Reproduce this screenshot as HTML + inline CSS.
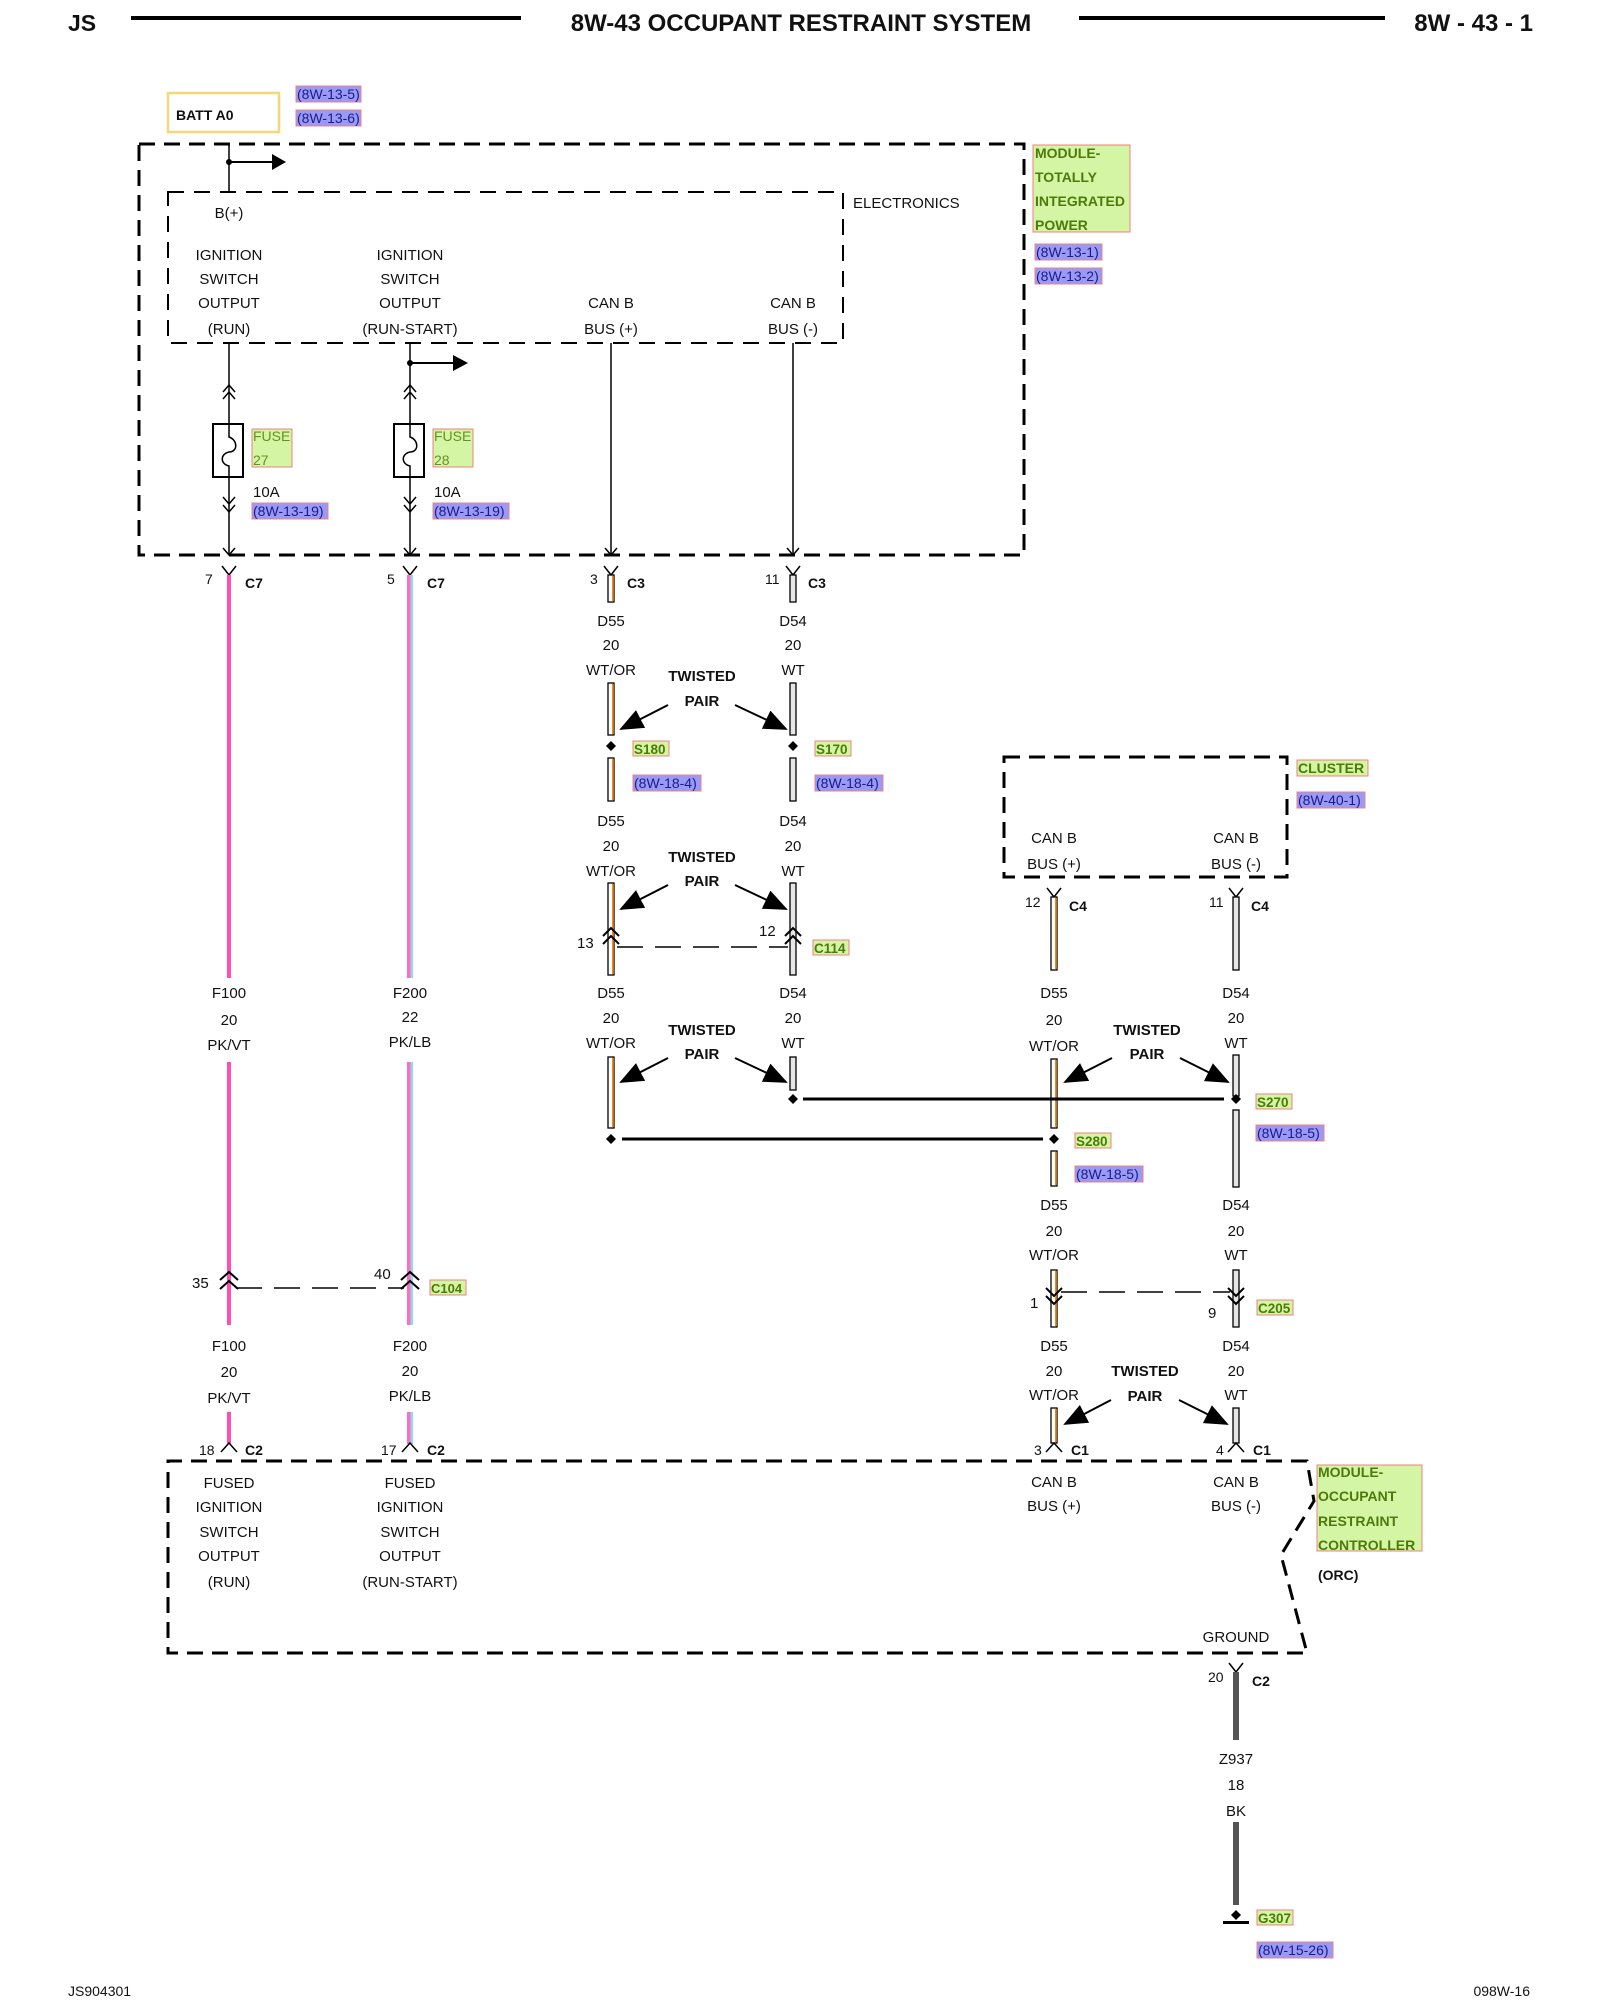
<!DOCTYPE html>
<html><head><meta charset="utf-8"><style>
html,body{margin:0;padding:0;background:#fff}
svg{display:block}
text{font-family:"Liberation Sans",Arial,sans-serif;font-size:15px;fill:#111}
.b{font-weight:bold}
.m{text-anchor:middle}
.g{font-weight:bold;fill:#4d7a0a;font-size:14px}
.r{fill:#1a1a8c;font-size:14px}
.dash{fill:none;stroke:#000;stroke-width:3;stroke-dasharray:16 9}
.thin{stroke:#000;stroke-width:1.5;fill:none}
</style></head><body>
<svg width="1600" height="2000" viewBox="0 0 1600 2000" xmlns="http://www.w3.org/2000/svg">
<defs>
<marker id="ta" markerWidth="24" markerHeight="20" refX="22" refY="10" orient="auto" markerUnits="userSpaceOnUse"><path d="M0,0 L24,10 L0,20z"/></marker>
</defs>
<!-- header -->
<text x="68" y="31" class="b" style="font-size:23px">JS</text>
<rect x="131" y="16" width="390" height="4" fill="#000"/>
<text x="801" y="31" class="b m" style="font-size:24px">8W-43 OCCUPANT RESTRAINT SYSTEM</text>
<rect x="1079" y="16" width="306" height="4" fill="#000"/>
<text x="1533" y="31" class="b" style="font-size:24px;text-anchor:end">8W - 43 - 1</text>

<!-- BATT A0 -->
<rect x="168" y="93" width="111" height="39" fill="#fff" stroke="#f5d77a" stroke-width="2.5"/>
<text x="176" y="120" class="b" style="font-size:14px">BATT A0</text>
<rect x="296" y="86" width="65" height="16" fill="#9a9af5" stroke="#f08080"/>
<text x="297" y="99" class="r">(8W-13-5)</text>
<rect x="296" y="110" width="65" height="16" fill="#9a9af5" stroke="#f08080"/>
<text x="297" y="123" class="r">(8W-13-6)</text>

<!-- TIPM boxes -->
<rect x="139" y="144" width="885" height="411" class="dash"/>
<rect x="168" y="192" width="675" height="151" class="dash" style="stroke-width:2;stroke-dasharray:16 10"/>
<text x="853" y="208" style="font-size:15px">ELECTRONICS</text>
<rect x="1033" y="145" width="97" height="87" fill="#d4f5a4" stroke="#f08080"/>
<text x="1035" y="158" class="g">MODULE-</text>
<text x="1035" y="182" class="g">TOTALLY</text>
<text x="1035" y="206" class="g">INTEGRATED</text>
<text x="1035" y="230" class="g">POWER</text>
<rect x="1035" y="244" width="67" height="16" fill="#9a9af5" stroke="#f08080"/>
<text x="1036" y="257" class="r">(8W-13-1)</text>
<rect x="1035" y="268" width="67" height="16" fill="#9a9af5" stroke="#f08080"/>
<text x="1036" y="281" class="r">(8W-13-2)</text>

<line x1="229" y1="144" x2="229" y2="192" class="thin"/>
<circle cx="229" cy="162" r="3"/>
<line x1="229" y1="162" x2="275" y2="162" class="thin" style="stroke-width:2"/>
<path d="M272,154 L286,162 L272,170z"/>
<text x="229" y="218" class="m">B(+)</text>
<text x="229" y="260" class="m">IGNITION</text><text x="229" y="284" class="m">SWITCH</text><text x="229" y="308" class="m">OUTPUT</text><text x="229" y="334" class="m">(RUN)</text>
<text x="410" y="260" class="m">IGNITION</text><text x="410" y="284" class="m">SWITCH</text><text x="410" y="308" class="m">OUTPUT</text><text x="410" y="334" class="m">(RUN-START)</text>
<text x="611" y="308" class="m">CAN B</text><text x="611" y="334" class="m">BUS (+)</text>
<text x="793" y="308" class="m">CAN B</text><text x="793" y="334" class="m">BUS (-)</text>

<!-- internal wires with fuses -->
<g class="thin">
<line x1="229" y1="343" x2="229" y2="555"/>
<line x1="410" y1="343" x2="410" y2="555"/>
<line x1="611" y1="343" x2="611" y2="555"/>
<line x1="793" y1="343" x2="793" y2="555"/>
<path d="M223,392 L229,385 L235,392 M223,399 L229,392 L235,399"/>
<path d="M404,392 L410,385 L416,392 M404,399 L410,392 L416,399"/>
<path d="M223,497 L229,504 L235,497 M223,505 L229,512 L235,505"/>
<path d="M404,497 L410,504 L416,497 M404,505 L410,512 L416,505"/>
<path d="M223,548 L229,555 L235,548 M404,548 L410,555 L416,548 M605,548 L611,555 L617,548 M787,548 L793,555 L799,548"/>
</g>
<rect x="213" y="424" width="30" height="53" fill="#fff" stroke="#000" stroke-width="2"/>
<rect x="394" y="424" width="30" height="53" fill="#fff" stroke="#000" stroke-width="2"/>
<path d="M229,424 L229,437 C238,440 238,452 229,452 C220,454 220,464 229,466 L229,477" class="thin"/>
<path d="M410,424 L410,437 C419,440 419,452 410,452 C401,454 401,464 410,466 L410,477" class="thin"/>
<circle cx="410" cy="363" r="3"/>
<line x1="410" y1="363" x2="455" y2="363" class="thin" style="stroke-width:2"/>
<path d="M453,355 L468,363 L453,371z"/>
<rect x="252" y="429" width="40" height="38" fill="#d4f5a4" stroke="#f08080"/>
<text x="253" y="441" style="fill:#6b8e23;font-size:14px">FUSE</text><text x="253" y="465" style="fill:#6b8e23;font-size:14px">27</text>
<rect x="433" y="429" width="40" height="38" fill="#d4f5a4" stroke="#f08080"/>
<text x="434" y="441" style="fill:#6b8e23;font-size:14px">FUSE</text><text x="434" y="465" style="fill:#6b8e23;font-size:14px">28</text>
<text x="253" y="497">10A</text><text x="434" y="497">10A</text>
<rect x="252" y="503" width="76" height="16" fill="#9a9af5" stroke="#f08080"/><text x="253" y="516" class="r">(8W-13-19)</text>
<rect x="433" y="503" width="76" height="16" fill="#9a9af5" stroke="#f08080"/><text x="434" y="516" class="r">(8W-13-19)</text>

<!-- connector Ys (top) -->
<g class="thin">
<path d="M222,566 L229,575 L236,566 M403,566 L410,575 L417,566 M604,566 L611,575 L618,566 M786,566 L793,575 L800,566"/>
<path d="M1047,888 L1054,897 L1061,888 M1229,888 L1236,897 L1243,888"/>
<path d="M1229,1663 L1236,1672 L1243,1663"/>
</g>
<text x="245" y="588" class="b" style="font-size:14px">C7</text><text x="427" y="588" class="b" style="font-size:14px">C7</text>
<text x="627" y="588" class="b" style="font-size:14px">C3</text><text x="808" y="588" class="b" style="font-size:14px">C3</text>
<text x="1069" y="911" class="b" style="font-size:14px">C4</text><text x="1251" y="911" class="b" style="font-size:14px">C4</text>
<text x="205" y="584" style="font-size:14px">7</text><text x="387" y="584" style="font-size:14px">5</text>
<text x="590" y="584" style="font-size:14px">3</text><text x="765" y="584" style="font-size:14px">11</text>
<text x="1025" y="907" style="font-size:14px">12</text><text x="1209" y="907" style="font-size:14px">11</text>

<!-- pink wires -->
<rect x="227" y="575" width="4" height="403" fill="#ff4fb4"/>
<rect x="227" y="1062" width="4" height="263" fill="#ff4fb4"/>
<rect x="227" y="1412" width="4" height="32" fill="#ff4fb4"/>
<rect x="407" y="575" width="3.5" height="403" fill="#ff6fbf"/><rect x="410.5" y="575" width="2.5" height="403" fill="#8fd8f0"/>
<rect x="407" y="1062" width="3.5" height="263" fill="#ff6fbf"/><rect x="410.5" y="1062" width="2.5" height="263" fill="#8fd8f0"/>
<rect x="407" y="1412" width="3.5" height="32" fill="#ff6fbf"/><rect x="410.5" y="1412" width="2.5" height="32" fill="#8fd8f0"/>
<text x="229" y="998" class="m">F100</text><text x="229" y="1025" class="m">20</text><text x="229" y="1050" class="m">PK/VT</text>
<text x="410" y="998" class="m">F200</text><text x="410" y="1022" class="m">22</text><text x="410" y="1047" class="m">PK/LB</text>
<text x="229" y="1351" class="m">F100</text><text x="229" y="1377" class="m">20</text><text x="229" y="1403" class="m">PK/VT</text>
<text x="410" y="1351" class="m">F200</text><text x="410" y="1376" class="m">20</text><text x="410" y="1401" class="m">PK/LB</text>
<!-- C104 -->
<g class="thin" style="stroke-width:2">
<path d="M220,1280 L229,1272 L238,1280 M220,1289 L229,1281 L238,1289"/>
<path d="M401,1280 L410,1272 L419,1280 M401,1289 L410,1281 L419,1289"/>
</g>
<line x1="236" y1="1288" x2="404" y2="1288" class="thin" style="stroke-dasharray:26 12"/>
<text x="192" y="1288">35</text><text x="374" y="1279">40</text>
<rect x="430" y="1280" width="36" height="15" fill="#d4f5a4" stroke="#f08080"/><text x="431" y="1293" class="g" style="font-size:13px">C104</text>

<!-- CAN wires -->
<g stroke="#000" stroke-width="1.3">
<rect x="608" y="575" width="6" height="27" fill="#fff"/>
<rect x="608" y="683" width="6" height="52" fill="#fff"/>
<rect x="608" y="758" width="6" height="43" fill="#fff"/>
<rect x="608" y="883" width="6" height="92" fill="#fff"/>
<rect x="608" y="1057" width="6" height="71" fill="#fff"/>
<rect x="790" y="575" width="6" height="27" fill="#e6e6e6"/>
<rect x="790" y="683" width="6" height="52" fill="#e6e6e6"/>
<rect x="790" y="758" width="6" height="43" fill="#e6e6e6"/>
<rect x="790" y="883" width="6" height="92" fill="#e6e6e6"/>
<rect x="790" y="1057" width="6" height="33" fill="#e6e6e6"/>
<rect x="1051" y="897" width="6" height="73" fill="#fff"/>
<rect x="1051" y="1059" width="6" height="69" fill="#fff"/>
<rect x="1051" y="1151" width="6" height="35" fill="#fff"/>
<rect x="1051" y="1270" width="6" height="57" fill="#fff"/>
<rect x="1051" y="1408" width="6" height="35" fill="#fff"/>
<rect x="1233" y="897" width="6" height="73" fill="#e6e6e6"/>
<rect x="1233" y="1055" width="6" height="41" fill="#e6e6e6"/>
<rect x="1233" y="1110" width="6" height="77" fill="#e6e6e6"/>
<rect x="1233" y="1270" width="6" height="57" fill="#e6e6e6"/>
<rect x="1233" y="1408" width="6" height="35" fill="#e6e6e6"/>
</g>
<g fill="#f08a1c">
<rect x="612" y="576" width="1.8" height="25"/><rect x="612" y="684" width="1.8" height="50"/><rect x="612" y="759" width="1.8" height="41"/><rect x="612" y="884" width="1.8" height="90"/><rect x="612" y="1058" width="1.8" height="69"/>
<rect x="1055" y="898" width="1.8" height="71"/><rect x="1055" y="1060" width="1.8" height="67"/><rect x="1055" y="1152" width="1.8" height="33"/><rect x="1055" y="1271" width="1.8" height="55"/><rect x="1055" y="1409" width="1.8" height="33"/>
</g>
<rect x="1233" y="1672" width="6" height="68" fill="#555"/>
<rect x="1233" y="1822" width="6" height="83" fill="#555"/>

<!-- wire labels -->
<text x="611" y="626" class="m">D55</text><text x="611" y="650" class="m">20</text><text x="611" y="675" class="m">WT/OR</text>
<text x="793" y="626" class="m">D54</text><text x="793" y="650" class="m">20</text><text x="793" y="675" class="m">WT</text>
<text x="611" y="826" class="m">D55</text><text x="611" y="851" class="m">20</text><text x="611" y="876" class="m">WT/OR</text>
<text x="793" y="826" class="m">D54</text><text x="793" y="851" class="m">20</text><text x="793" y="876" class="m">WT</text>
<text x="611" y="998" class="m">D55</text><text x="611" y="1023" class="m">20</text><text x="611" y="1048" class="m">WT/OR</text>
<text x="793" y="998" class="m">D54</text><text x="793" y="1023" class="m">20</text><text x="793" y="1048" class="m">WT</text>
<text x="1054" y="998" class="m">D55</text><text x="1054" y="1025" class="m">20</text><text x="1054" y="1051" class="m">WT/OR</text>
<text x="1236" y="998" class="m">D54</text><text x="1236" y="1023" class="m">20</text><text x="1236" y="1048" class="m">WT</text>
<text x="1054" y="1210" class="m">D55</text><text x="1054" y="1236" class="m">20</text><text x="1054" y="1260" class="m">WT/OR</text>
<text x="1236" y="1210" class="m">D54</text><text x="1236" y="1236" class="m">20</text><text x="1236" y="1260" class="m">WT</text>
<text x="1054" y="1351" class="m">D55</text><text x="1054" y="1376" class="m">20</text><text x="1054" y="1400" class="m">WT/OR</text>
<text x="1236" y="1351" class="m">D54</text><text x="1236" y="1376" class="m">20</text><text x="1236" y="1400" class="m">WT</text>
<text x="1236" y="1764" class="m">Z937</text><text x="1236" y="1790" class="m">18</text><text x="1236" y="1816" class="m">BK</text>

<!-- twisted pair labels & arrows -->
<text x="702" y="681" class="b m">TWISTED</text><text x="702" y="706" class="b m">PAIR</text>
<text x="702" y="862" class="b m">TWISTED</text><text x="702" y="886" class="b m">PAIR</text>
<text x="702" y="1035" class="b m">TWISTED</text><text x="702" y="1059" class="b m">PAIR</text>
<text x="1147" y="1035" class="b m">TWISTED</text><text x="1147" y="1059" class="b m">PAIR</text>
<text x="1145" y="1376" class="b m">TWISTED</text><text x="1145" y="1401" class="b m">PAIR</text>
<g stroke="#000" stroke-width="2" marker-end="url(#ta)">
<line x1="668" y1="705" x2="621" y2="729"/><line x1="735" y1="705" x2="786" y2="729"/>
<line x1="668" y1="885" x2="621" y2="909"/><line x1="735" y1="885" x2="786" y2="909"/>
<line x1="668" y1="1058" x2="621" y2="1082"/><line x1="735" y1="1058" x2="786" y2="1082"/>
<line x1="1112" y1="1058" x2="1065" y2="1082"/><line x1="1180" y1="1058" x2="1228" y2="1082"/>
<line x1="1111" y1="1400" x2="1065" y2="1424"/><line x1="1179" y1="1400" x2="1227" y2="1424"/>
</g>

<!-- splices -->
<path d="M611,741 L616,746 L611,751 L606,746z"/><path d="M793,741 L798,746 L793,751 L788,746z"/>
<path d="M611,1134 L616,1139 L611,1144 L606,1139z"/><path d="M793,1094 L798,1099 L793,1104 L788,1099z"/>
<path d="M1054,1134 L1059,1139 L1054,1144 L1049,1139z"/><path d="M1236,1094 L1241,1099 L1236,1104 L1231,1099z"/>
<line x1="803" y1="1099" x2="1224" y2="1099" stroke="#000" stroke-width="3"/>
<line x1="622" y1="1139" x2="1043" y2="1139" stroke="#000" stroke-width="3"/>
<rect x="633" y="741" width="36" height="15" fill="#d4f5a4" stroke="#f08080"/><text x="634" y="754" class="g" style="font-size:13.5px">S180</text>
<rect x="815" y="741" width="36" height="15" fill="#d4f5a4" stroke="#f08080"/><text x="816" y="754" class="g" style="font-size:13.5px">S170</text>
<rect x="633" y="775" width="68" height="16" fill="#9a9af5" stroke="#f08080"/><text x="634" y="788" class="r">(8W-18-4)</text>
<rect x="815" y="775" width="68" height="16" fill="#9a9af5" stroke="#f08080"/><text x="816" y="788" class="r">(8W-18-4)</text>
<rect x="1256" y="1094" width="36" height="15" fill="#d4f5a4" stroke="#f08080"/><text x="1257" y="1107" class="g" style="font-size:13.5px">S270</text>
<rect x="1256" y="1125" width="68" height="16" fill="#9a9af5" stroke="#f08080"/><text x="1257" y="1138" class="r">(8W-18-5)</text>
<rect x="1075" y="1133" width="36" height="15" fill="#d4f5a4" stroke="#f08080"/><text x="1076" y="1146" class="g" style="font-size:13.5px">S280</text>
<rect x="1075" y="1166" width="68" height="16" fill="#9a9af5" stroke="#f08080"/><text x="1076" y="1179" class="r">(8W-18-5)</text>

<!-- C114 -->
<g class="thin" style="stroke-width:2">
<path d="M603,936 L611,928 L619,936 M603,944 L611,936 L619,944"/>
<path d="M785,936 L793,928 L801,936 M785,944 L793,936 L801,944"/>
</g>
<line x1="617" y1="947" x2="788" y2="947" class="thin" style="stroke-dasharray:26 12"/>
<text x="577" y="948">13</text><text x="759" y="936">12</text>
<rect x="813" y="940" width="36" height="15" fill="#d4f5a4" stroke="#f08080"/><text x="814" y="953" class="g" style="font-size:13.5px">C114</text>

<!-- cluster -->
<rect x="1004" y="757" width="283" height="120" class="dash"/>
<text x="1054" y="843" class="m">CAN B</text><text x="1054" y="869" class="m">BUS (+)</text>
<text x="1236" y="843" class="m">CAN B</text><text x="1236" y="869" class="m">BUS (-)</text>
<rect x="1297" y="760" width="71" height="16" fill="#d4f5a4" stroke="#f08080"/><text x="1298" y="773" class="g">CLUSTER</text>
<rect x="1297" y="792" width="68" height="16" fill="#9a9af5" stroke="#f08080"/><text x="1298" y="805" class="r">(8W-40-1)</text>

<!-- C205 -->
<g class="thin" style="stroke-width:2">
<path d="M1046,1288 L1054,1296 L1062,1288 M1046,1296 L1054,1304 L1062,1296"/>
<path d="M1228,1288 L1236,1296 L1244,1288 M1228,1296 L1236,1304 L1244,1296"/>
</g>
<line x1="1061" y1="1292" x2="1230" y2="1292" class="thin" style="stroke-dasharray:26 12"/>
<text x="1030" y="1308">1</text><text x="1208" y="1318">9</text>
<rect x="1257" y="1300" width="36" height="15" fill="#d4f5a4" stroke="#f08080"/><text x="1258" y="1313" class="g" style="font-size:13.5px">C205</text>

<!-- bottom connectors ^ -->
<g class="thin">
<path d="M221,1452 L229,1443 L237,1452 M402,1452 L410,1443 L418,1452 M1046,1452 L1054,1443 L1062,1452 M1228,1452 L1236,1443 L1244,1452"/>
</g>
<text x="199" y="1455" style="font-size:14px">18</text><text x="245" y="1455" class="b" style="font-size:14px">C2</text>
<text x="381" y="1455" style="font-size:14px">17</text><text x="427" y="1455" class="b" style="font-size:14px">C2</text>
<text x="1034" y="1455" style="font-size:14px">3</text><text x="1071" y="1455" class="b" style="font-size:14px">C1</text>
<text x="1216" y="1455" style="font-size:14px">4</text><text x="1253" y="1455" class="b" style="font-size:14px">C1</text>

<!-- ORC -->
<path d="M1307,1461 L168,1461 L168,1653 L1307,1653 L1281,1555 L1314,1501 Z" class="dash"/>
<text x="229" y="1488" class="m">FUSED</text><text x="229" y="1512" class="m">IGNITION</text><text x="229" y="1537" class="m">SWITCH</text><text x="229" y="1561" class="m">OUTPUT</text><text x="229" y="1587" class="m">(RUN)</text>
<text x="410" y="1488" class="m">FUSED</text><text x="410" y="1512" class="m">IGNITION</text><text x="410" y="1537" class="m">SWITCH</text><text x="410" y="1561" class="m">OUTPUT</text><text x="410" y="1587" class="m">(RUN-START)</text>
<text x="1054" y="1487" class="m">CAN B</text><text x="1054" y="1511" class="m">BUS (+)</text>
<text x="1236" y="1487" class="m">CAN B</text><text x="1236" y="1511" class="m">BUS (-)</text>
<text x="1236" y="1642" class="m">GROUND</text>
<rect x="1317" y="1465" width="105" height="86" fill="#d4f5a4" stroke="#f08080"/>
<text x="1318" y="1477" class="g">MODULE-</text>
<text x="1318" y="1501" class="g">OCCUPANT</text>
<text x="1318" y="1526" class="g">RESTRAINT</text>
<text x="1318" y="1550" class="g">CONTROLLER</text>
<text x="1318" y="1580" class="b" style="font-size:14px">(ORC)</text>

<!-- ground -->
<text x="1208" y="1682" style="font-size:14px">20</text><text x="1252" y="1686" class="b" style="font-size:14px">C2</text>
<path d="M1236,1910 L1241,1915 L1236,1920 L1231,1915z"/>
<rect x="1223" y="1921" width="26" height="3"/>
<rect x="1257" y="1910" width="36" height="15" fill="#d4f5a4" stroke="#f08080"/><text x="1258" y="1923" class="g" style="font-size:13.5px">G307</text>
<rect x="1257" y="1942" width="76" height="16" fill="#9a9af5" stroke="#f08080"/><text x="1258" y="1955" class="r">(8W-15-26)</text>

<!-- footer -->
<text x="68" y="1996" style="font-size:14px">JS904301</text>
<text x="1530" y="1996" style="font-size:14px;text-anchor:end">098W-16</text>
</svg>
</body></html>
